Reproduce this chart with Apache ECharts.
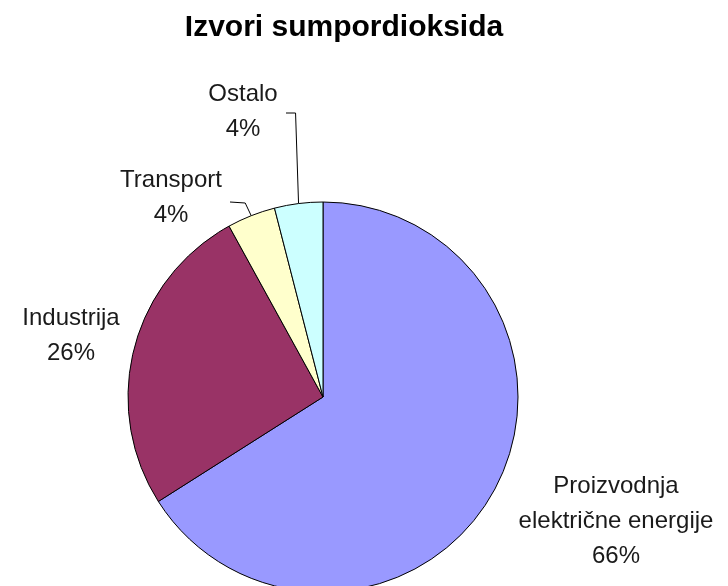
<!DOCTYPE html>
<html>
<head>
<meta charset="utf-8">
<script src="https://cdn.jsdelivr.net/npm/echarts@6/dist/echarts.min.js"></script>
<style>
  html, body { margin: 0; padding: 0; background: #fff; }
  #main { width: 728px; height: 586px; }
</style>
</head>
<body>
<div id="main"></div>
<script>
// izvori SO2, udjeli u %
var categories = ["Proizvodnja\nelektrične energije", "Industrija", "Transport", "Ostalo"];
var shares = [66, 26, 4, 4];
var sliceColors = ["#9999ff", "#993366", "#ffffcc", "#ccffff"];

// where each label block sits (centre of the text block)
var labelSpots = [
  { x: 616, y: 521, line: false },
  { x: 71, y: 336, line: false },
  { x: 171, y: 198, line: true },
  { x: 243, y: 112, line: true }
];

var datas = [];
for (var i = 0; i < categories.length; i++) {
  datas.push({
    name: categories[i],
    value: shares[i],
    itemStyle: { color: sliceColors[i] },
    labelLine: { show: labelSpots[i].line }
  });
}

var myChart = echarts.init(document.getElementById("main"));

var option = {
  backgroundColor: "#fff",
  animation: false,
  title: {
    text: "Izvori sumpordioksida",
    left: 339,
    top: 8,
    textAlign: "center",
    textStyle: {
      fontFamily: "Liberation Sans, Arial",
      fontWeight: "bold",
      fontSize: 30,
      color: "#000"
    }
  },
  series: [
    {
      type: "pie",
      center: [323, 397],
      radius: 195,
      startAngle: 90,
      clockwise: true,
      itemStyle: {
        borderColor: "#000",
        borderWidth: 1
      },
      label: {
        show: true,
        formatter: "{b}\n{d}%",
        fontFamily: "Liberation Sans, Arial",
        fontSize: 24,
        lineHeight: 35,
        color: "#1a1a1a",
        align: "center",
        overflow: "none",
        width: 300
      },
      labelLine: {
        show: true,
        lineStyle: { color: "#000", width: 1 }
      },
      labelLayout: function (params) {
        var s = labelSpots[params.dataIndex];
        var res = {
          x: s.x,
          y: s.y,
          align: "center",
          verticalAlign: "middle"
        };
        if (s.line && params.labelLinePoints) {
          var p0 = params.labelLinePoints[0];
          if (params.dataIndex === 3) {
            res.labelLinePoints = [[p0[0], p0[1]], [p0[0] - 3, 113], [286, 113]];
          } else {
            res.labelLinePoints = [[p0[0], p0[1]], [p0[0] - 6, 203], [230, 202]];
          }
        }
        return res;
      },
      data: datas
    }
  ]
};

myChart.setOption(option);
</script>
</body>
</html>
